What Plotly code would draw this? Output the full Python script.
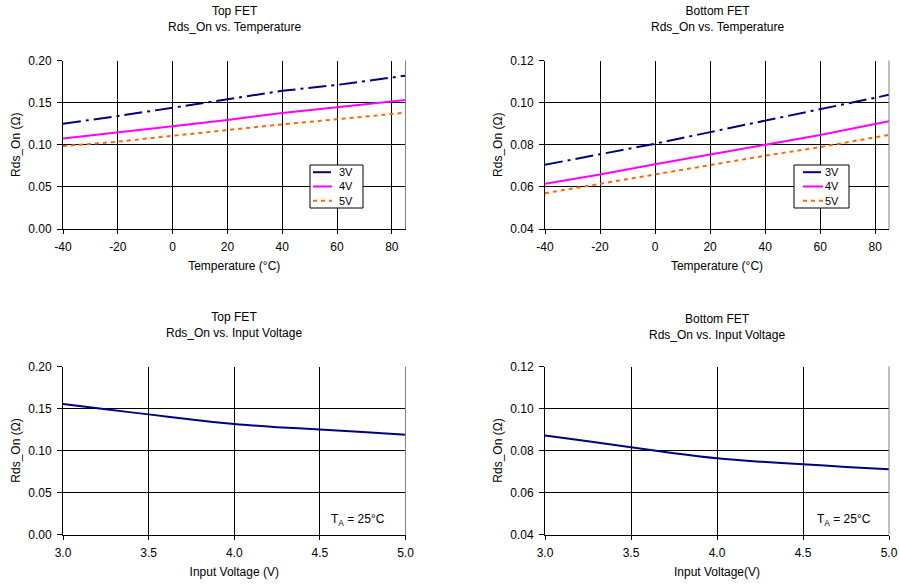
import plotly.graph_objects as go

# ---- data ----
temps = [-40, -20, 0, 20, 40, 60, 85]
temp_ticks = [-40, -20, 0, 20, 40, 60, 80]
temp_tick_labels = ["-40", "-20", "0", "20", "40", "60", "80"]

top_3v = [0.125, 0.134, 0.144, 0.154, 0.164, 0.171, 0.182]
top_4v = [0.1075, 0.1143, 0.122, 0.1294, 0.1377, 0.1444, 0.153]
top_5v = [0.0985, 0.1036, 0.1107, 0.1175, 0.1242, 0.1302, 0.1381]

bot_3v = [0.0705, 0.0754, 0.0805, 0.086, 0.0915, 0.0968, 0.1037]
bot_4v = [0.0615, 0.0659, 0.0707, 0.0753, 0.0802, 0.0846, 0.0912]
bot_5v = [0.057, 0.0615, 0.0658, 0.0702, 0.0748, 0.0789, 0.0847]

vin = [3.0, 3.25, 3.5, 3.75, 4.0, 4.25, 4.5, 4.75, 5.0]
top_vin = [0.1555, 0.149, 0.143, 0.1368, 0.1315, 0.1278, 0.125, 0.122, 0.1187]
bot_vin = [0.0871, 0.0844, 0.0816, 0.0787, 0.0763, 0.0747, 0.0735, 0.0722, 0.0711]

series_names = ["3V", "4V", "5V"]

NAVY = "#000080"
MAGENTA = "#FF00FF"
ORANGE = "#FF6600"
FONT = "Liberation Sans, Arial, sans-serif"
FS = 12

styles = [
    dict(color=NAVY, width=2, dash="18px,5px,3px,5px"),
    dict(color=MAGENTA, width=2),
    dict(color=ORANGE, width=2, dash="4px,4px"),
]

fig = go.Figure()

for name, ys, st in zip(series_names, [top_3v, top_4v, top_5v], styles):
    fig.add_trace(go.Scatter(x=temps, y=ys, mode="lines", name=name, line=st,
                             xaxis="x", yaxis="y", showlegend=False))
for name, ys, st in zip(series_names, [bot_3v, bot_4v, bot_5v], styles):
    fig.add_trace(go.Scatter(x=temps, y=ys, mode="lines", name=name, line=st,
                             xaxis="x2", yaxis="y2", showlegend=False))

fig.add_trace(go.Scatter(x=vin, y=top_vin, mode="lines", showlegend=False, name="Top FET",
                         line=dict(color=NAVY, width=2, shape="spline", smoothing=0.6),
                         xaxis="x3", yaxis="y3"))
fig.add_trace(go.Scatter(x=vin, y=bot_vin, mode="lines", showlegend=False, name="Bottom FET",
                         line=dict(color=NAVY, width=2, shape="spline", smoothing=0.6),
                         xaxis="x4", yaxis="y4"))

W, H = 900, 585
def px_x(a, b):
    return [a / W, b / W]
def px_y(top, bottom):
    return [1 - bottom / H, 1 - top / H]

xdom_l = px_x(63, 405.5)
xdom_r = px_x(545, 889)
ydom_t = px_y(60.5, 229)
ydom_b = px_y(366.5, 534.5)

common_x = dict(showgrid=True, gridcolor="black", gridwidth=1, showline=True,
                linecolor="black", linewidth=1, ticks="outside", ticklen=4,
                tickcolor="black", zeroline=False, automargin=False,
                ticklabelstandoff=3,
                tickfont=dict(size=FS, color="black", family=FONT),
                title_font=dict(size=FS, color="black", family=FONT),
                title_standoff=8)
common_y = dict(showgrid=True, gridcolor="black", gridwidth=1, showline=True,
                linecolor="black", linewidth=1, ticks="outside", ticklen=5,
                tickcolor="black", zeroline=False, automargin=False,
                ticklabelstandoff=3,
                tickfont=dict(size=FS, color="black", family=FONT),
                title_font=dict(size=FS, color="black", family=FONT),
                title_standoff=5)

fig.update_layout(
    width=W, height=H,
    margin=dict(l=0, r=0, t=0, b=0),
    paper_bgcolor="white", plot_bgcolor="white",
    font=dict(family=FONT, size=FS, color="black"),
    showlegend=False,
    xaxis=dict(domain=xdom_l, range=[-40, 85], tickvals=temp_ticks, ticktext=temp_tick_labels,
               title_text="Temperature (°C)", anchor="y", **common_x),
    yaxis=dict(domain=ydom_t, range=[0, 0.2], tickvals=[0, 0.05, 0.1, 0.15, 0.2],
               tickformat=".2f", title_text="Rds_On (Ω)", anchor="x", **common_y),
    xaxis2=dict(domain=xdom_r, range=[-40, 85], tickvals=temp_ticks, ticktext=temp_tick_labels,
                title_text="Temperature (°C)", anchor="y2", **common_x),
    yaxis2=dict(domain=ydom_t, range=[0.04, 0.12], tickvals=[0.04, 0.06, 0.08, 0.1, 0.12],
                tickformat=".2f", title_text="Rds_On (Ω)", anchor="x2", **common_y),
    xaxis3=dict(domain=xdom_l, range=[3, 5], tickvals=[3, 3.5, 4, 4.5, 5],
                tickformat=".1f", title_text="Input Voltage (V)", anchor="y3", **common_x),
    yaxis3=dict(domain=ydom_b, range=[0, 0.2], tickvals=[0, 0.05, 0.1, 0.15, 0.2],
                tickformat=".2f", title_text="Rds_On (Ω)", anchor="x3", **common_y),
    xaxis4=dict(domain=xdom_r, range=[3, 5], tickvals=[3, 3.5, 4, 4.5, 5],
                tickformat=".1f", title_text="Input Voltage(V)", anchor="y4", **common_x),
    yaxis4=dict(domain=ydom_b, range=[0.04, 0.12], tickvals=[0.04, 0.06, 0.08, 0.1, 0.12],
                tickformat=".2f", title_text="Rds_On (Ω)", anchor="x4", **common_y),
)

# right-side plot borders (gray)
for xr, yr in [("x", "y"), ("x2", "y2"), ("x3", "y3"), ("x4", "y4")]:
    fig.add_shape(type="line", xref=f"{xr} domain", yref=f"{yr} domain",
                  x0=1, x1=1, y0=0, y1=1, line=dict(color="#808080", width=1))

# legends (compact boxes as in the reference), placed in paper space
LEG_FS = 11
ROW = LEG_FS * 1.3
def add_legend(box_left, box_top, box_w, box_h, sample_x0, sample_x1, text_x):
    fig.add_shape(type="rect", xref="paper", yref="paper",
                  x0=box_left / W, x1=(box_left + box_w) / W,
                  y0=1 - (box_top + box_h) / H, y1=1 - box_top / H,
                  line=dict(color="black", width=1), fillcolor="white", layer="above")
    cy = box_top + box_h / 2
    rows_y = [cy - ROW, cy, cy + ROW]
    for st, ry in zip(styles, rows_y):
        fig.add_shape(type="line", xref="paper", yref="paper",
                      x0=sample_x0 / W, x1=sample_x1 / W, y0=1 - ry / H, y1=1 - ry / H,
                      line=st, layer="above")
    fig.add_annotation(text="<br>".join(series_names), xref="paper", yref="paper",
                       x=text_x / W, y=1 - cy / H, xanchor="left", yanchor="middle",
                       align="left", showarrow=False,
                       font=dict(size=LEG_FS, family=FONT, color="black"))

add_legend(310, 165, 53, 43, 313, 332, 337)
add_legend(794, 165, 55, 43, 803, 823, 823)

# chart titles
titles = [
    ("Top FET<br>Rds_On vs. Temperature", sum(xdom_l) / 2, 1 - 19.5 / H),
    ("Bottom FET<br>Rds_On vs. Temperature", sum(xdom_r) / 2, 1 - 19.5 / H),
    ("Top FET<br>Rds_On vs. Input Voltage", sum(xdom_l) / 2, 1 - 325 / H),
    ("Bottom FET<br>Rds_On vs. Input Voltage", sum(xdom_r) / 2, 1 - 327 / H),
]
for txt, x, y in titles:
    fig.add_annotation(text=txt, x=x, y=y, xref="paper", yref="paper",
                       xanchor="center", yanchor="middle", showarrow=False,
                       font=dict(size=FS, family=FONT, color="black"))

# ambient temperature notes
fig.add_annotation(text="T<sub>A</sub> = 25°C", xref="x3 domain", yref="y3 domain",
                   x=0.945, y=0.085, xanchor="right", yanchor="middle", showarrow=False,
                   font=dict(size=FS, family=FONT, color="black"))
fig.add_annotation(text="T<sub>A</sub> = 25°C", xref="x4 domain", yref="y4 domain",
                   x=0.953, y=0.085, xanchor="right", yanchor="middle", showarrow=False,
                   font=dict(size=FS, family=FONT, color="black"))

fig.write_html(
    "out.html",
    config={"displayModeBar": False},
    post_script="document.body.style.margin='0px';document.body.style.overflow='hidden';",
)
